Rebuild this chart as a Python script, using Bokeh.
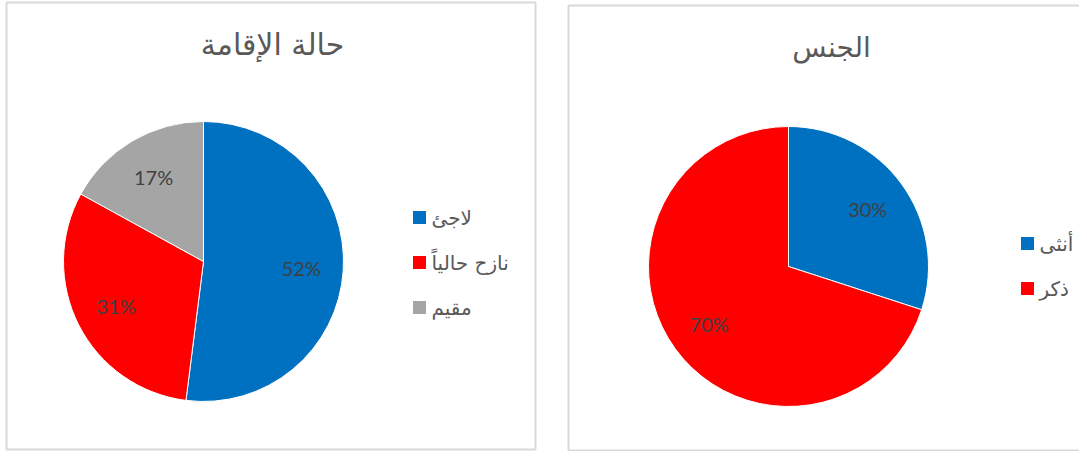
import numpy as np
from bokeh.plotting import figure
from bokeh.models import Range1d, ColumnDataSource
from bokeh.core.properties import value
from bokeh.embed import file_html
from bokeh.resources import INLINE

# ---- data ----
residence_title = "حالة الإقامة"
residence_labels = ["لاجئ", "نازح حالياً", "مقيم"]
residence_values = [52, 31, 17]
residence_colors = ["#0070C0", "#FF0000", "#A5A5A5"]

gender_title = "الجنس"
gender_labels = ["أنثى", "ذكر"]
gender_values = [30, 70]
gender_colors = ["#0070C0", "#FF0000"]

W, H = 1079, 451


def X(sx):
    return sx


def Y(sy):
    return H - sy


p = figure(width=W, height=H, output_backend="svg", toolbar_location=None,
           x_range=Range1d(0, W), y_range=Range1d(0, H),
           x_axis_type=None, y_axis_type=None, min_border=0,
           background_fill_color="white", border_fill_color="white")
p.grid.visible = False
p.outline_line_color = None

ARABIC = value("DejaVu Sans")
NUM = value("Lato")


def panel(x0, y0, x1, y1):
    p.quad(left=[X(x0)], right=[X(x1)], top=[Y(y0)], bottom=[Y(y1)],
           fill_color=None, line_color="#D9D9D9", line_width=2)


def pie(cx, cy, r, vals, cols, labels, title, tx, ty, tsize, lx, ly0, ldy):
    vals = np.asarray(vals, dtype=float)
    frac = vals / vals.sum()
    cum = np.concatenate([[0], np.cumsum(frac)])
    start = np.pi / 2 - cum[:-1] * 2 * np.pi
    end = np.pi / 2 - cum[1:] * 2 * np.pi
    src = ColumnDataSource(dict(start=start, end=end, color=cols))
    p.wedge(x=X(cx), y=Y(cy), radius=r, start_angle="start", end_angle="end",
            direction="clock", fill_color="color", line_color="white",
            line_width=1, source=src)
    mid = (start + end) / 2
    lr = 0.7 * r
    p.text(x=X(cx) + lr * np.cos(mid), y=Y(cy) + lr * np.sin(mid),
           text=[f"{int(round(v))}%" for v in vals],
           text_align="center", text_baseline="middle",
           text_font=NUM, text_font_size="20px", text_color="#404040")
    p.text(x=[X(tx)], y=[Y(ty)], text=[title], text_align="center",
           text_baseline="middle", text_font=ARABIC, text_font_size=tsize,
           text_color="#595959")
    n = len(labels)
    ys = [Y(ly0 + i * ldy) for i in range(n)]
    p.rect(x=[X(lx)] * n, y=ys, width=13, height=13, width_units="screen",
           height_units="screen", fill_color=cols, line_color=None)
    p.text(x=[X(lx) + 12] * n, y=ys, text=labels, text_align="left",
           text_baseline="middle", text_font=ARABIC, text_font_size="20px",
           text_color="#595959")


panel(6, 2, 535, 449)
panel(568, 5, 1095, 450)

pie(203, 261, 140, residence_values, residence_colors, residence_labels,
    residence_title, 272, 44, "30px", 419, 217, 45)
pie(788, 266, 140, gender_values, gender_colors, gender_labels,
    gender_title, 831, 47, "28px", 1027, 243, 45)

open("out.html", "w").write(file_html(p, INLINE))
